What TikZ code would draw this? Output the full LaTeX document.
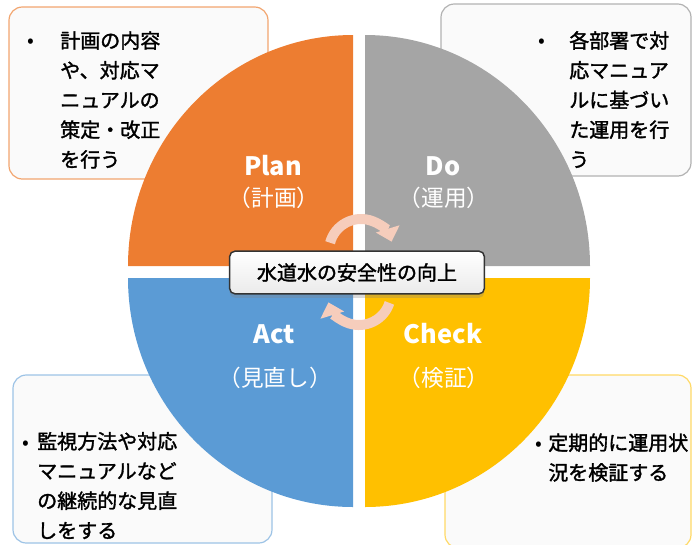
\documentclass[tikz,border=0pt]{standalone}
\usepackage{fontspec}
\setmainfont{Noto Sans CJK JP}
\newfontfamily\jpmed{Noto Sans CJK JP}[FakeBold=1.6]
\usetikzlibrary{arrows.meta,shadows}
\definecolor{planfill}{HTML}{ED7D31}
\definecolor{dofill}{HTML}{A5A5A5}
\definecolor{actfill}{HTML}{5B9BD5}
\definecolor{checkfill}{HTML}{FFC000}
\definecolor{planline}{HTML}{F2A56F}
\definecolor{doline}{HTML}{B2B2B2}
\definecolor{actline}{HTML}{9DC3E6}
\definecolor{checkline}{HTML}{FFD966}
\definecolor{cyclepink}{HTML}{F6CDBC}
\tikzset{
    x=0.75pt, y=-0.75pt, % one unit is one pixel of the sketch
    memo/.style={rounded corners=10pt, fill=white!98!black, line width=0.9pt}, % boxes behind the circle
    note/.style={anchor=base west, align=left, inner sep=0pt, font=\jpmed\fontsize{15}{22.3}\selectfont}, % placed at the baseline of the last line
    dot/.style={anchor=base, inner sep=0pt, font=\fontsize{15}{22.5}\selectfont},
    title/.style={anchor=base, inner sep=0pt, text=white, font=\bfseries\fontsize{19}{22}\selectfont},
    sub/.style={anchor=base, inner sep=0pt, text=white, font=\fontsize{17}{20}\selectfont},
    cyclearrow/.style={draw=cyclepink, line width=7.5pt, -{Triangle[width=18pt,length=10pt]}},
}
\begin{document}
\begin{tikzpicture}
  \useasboundingbox (0,0) rectangle (692,544);

  % memo boxes
  \draw[memo, draw=planline] (9,7) rectangle (268,179);
  \draw[memo, draw=doline] (441,4) rectangle (691,176);
  \draw[memo, draw=actline] (13,375) rectangle (272,543);
  \draw[memo, draw=checkline] (445,375) rectangle (691,548);

  \node[dot] (plan_dot) at (31,47) {•};
  \node[note] (plan_txt) at (60,167) {計画の内容\\や、対応マ\\ニュアルの\\策定・改正\\を行う};
  \node[dot] (do_dot) at (542,47) {•};
  \node[note] (do_txt) at (569,167) {各部署で対\\応マニュア\\ルに基づい\\た運用を行\\う};
  \node[dot] (act_dot) at (26,449) {•};
  \node[note] (act_txt) at (37,538) {監視方法や対応\\マニュアルなど\\の継続的な見直\\しをする};
  \node[dot] (check_dot) at (539,450) {•};
  \node[note] (check_txt) at (548,480) {定期的に運用状\\況を検証する};

  % the four quarters
  \fill[planfill] (353,266) -- (128,266) arc[start angle=180, end angle=270, x radius=225, y radius=231] -- cycle;
  \fill[dofill] (365,266) -- (365,35) arc[start angle=270, end angle=360, x radius=225, y radius=231] -- cycle;
  \fill[actfill] (353,278) -- (128,278) arc[start angle=180, end angle=90, x radius=225, y radius=229] -- cycle;
  \fill[checkfill] (365,278) -- (590,278) arc[start angle=0, end angle=90, x radius=225, y radius=229] -- cycle;

  \node[title] (plan) at (273,175) {Plan};
  \node[sub] (plan_jp) at (274,206) {（計画）};
  \node[title] (do) at (443,175) {Do};
  \node[sub] (do_jp) at (444,206) {（運用）};
  \node[title] (act) at (274,343) {Act};
  \node[sub] (act_jp) at (275,386) {（見直し）};
  \node[title] (check) at (443,343) {Check};
  \node[sub] (check_jp) at (444,386) {（検証）};

  % cycle arrows
  \draw[cyclearrow] (361,251) ++(195:32) arc[start angle=195, end angle=343, radius=32];
  \draw[cyclearrow] (359,293) ++(18:32) arc[start angle=18, end angle=163, radius=32];

  \node[draw=black!80, line width=1.1pt, rounded corners=4pt, top color=white, bottom color=black!8,
        drop shadow={opacity=0.3, shadow xshift=0pt, shadow yshift=-3pt},
        minimum width=191pt, minimum height=32pt, font=\jpmed\fontsize{15}{18}\selectfont]
        (goal) at (357,272.5) {水道水の安全性の向上};
\end{tikzpicture}
\end{document}
